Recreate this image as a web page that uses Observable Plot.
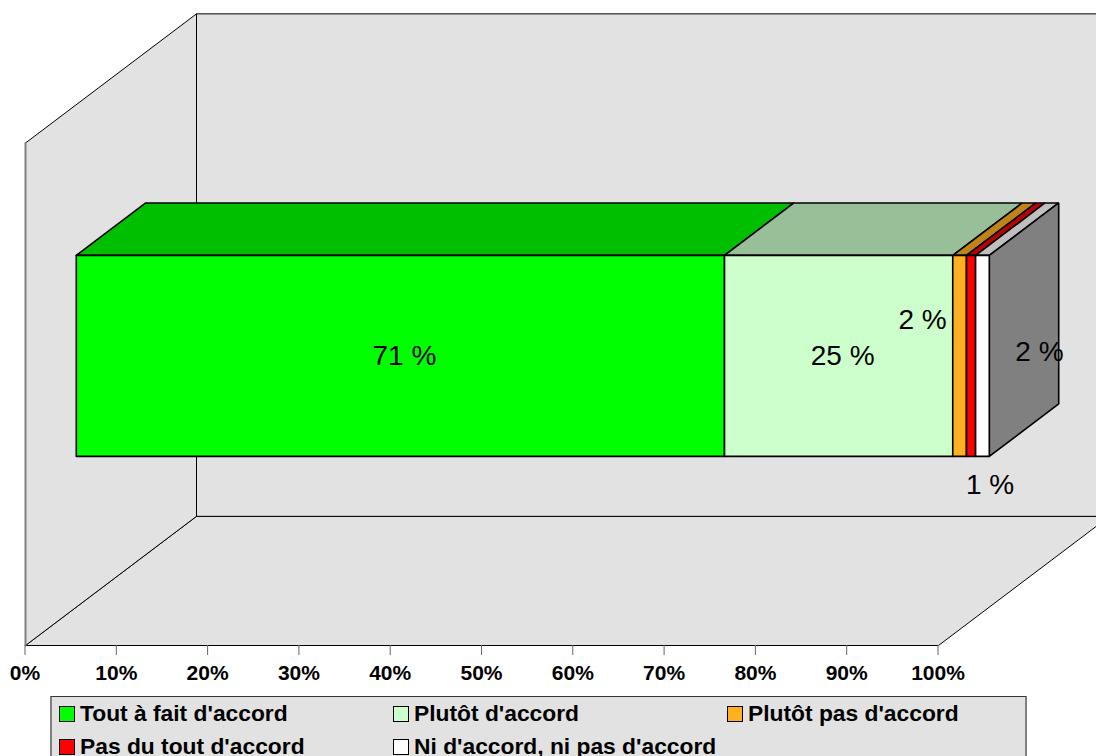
<!DOCTYPE html>
<html lang="fr">
<head>
<meta charset="utf-8">
<script src="https://cdn.jsdelivr.net/npm/d3@7"></script>
<script src="https://cdn.jsdelivr.net/npm/@observablehq/plot@0.6"></script>
<style>
  html, body { margin: 0; padding: 0; background: #fff; overflow: hidden; }
  body { font-family: "Liberation Sans", Arial, sans-serif; }
  #chart svg { display: block; }
  #legend {
    box-sizing: border-box; margin-left: 50px; width: 977px; height: 60px;
    background: #e2e2e2; border-top: 1px solid #333;
    border-left: 2px solid #808080; border-right: 2px solid #808080;
    display: grid; grid-template-columns: repeat(3, 334px); grid-auto-rows: 33px;
    padding: 0 0 0 7px;
    font-weight: bold; font-size: 22.8px; color: #000;
  }
  .item { display: flex; align-items: center; white-space: nowrap; }
  .swatch { box-sizing: border-box; width: 16px; height: 16px; border: 1.5px solid #000; margin-right: 5px; flex: none; }
  .name { display: block; line-height: 0.8; }
</style>
</head>
<body>
<div id="chart"></div>
<div id="legend"></div>
<script>
const categories = ["Tout à fait d'accord", "Plutôt d'accord", "Plutôt pas d'accord", "Pas du tout d'accord", "Ni d'accord, ni pas d'accord"];
const shares = [71, 25, 1.5, 1, 1.5];
const shownLabels = ["71 %", "25 %", "2 %", "1 %", "2 %"];
const frontColors = ["#00ff00", "#ccffcc", "#ffb020", "#ff0000", "#ffffff"];
const topColors = ["#00bf00", "#99bf99", "#bf8418", "#bf0000", "#bfbfbf"];
const sideColor = "#808080";
const wallColor = "#e2e2e2";
const axisTicks = [0, 10, 20, 30, 40, 50, 60, 70, 80, 90, 100];
const labelNudges = [[4, 0], [4, 0], [-37, -36], [19, 129], [57, -4]];

// Oblique projection of (share, level, depth) into the chart's x and y data units.
const depthX = 18.73, depthY = 25.7;
const project = ([s, l, d]) => ({x: s + d * depthX, y: l + d * depthY});
const poly = (pts) => pts.concat([pts[0]]).map(project);

const floor = 0, ceil = 100, barLow = 30, barHigh = 70, barFront = 0.297, barBack = 0.703;
const starts = shares.map((_, i) => d3.sum(shares.slice(0, i)));
const ends = shares.map((v, i) => starts[i] + v);

const face = (pts, fill, opts = {}) =>
  Plot.line(poly(pts), {x: "x", y: "y", fill, stroke: "#000", strokeWidth: 1, strokeLinejoin: "miter", ...opts});

const marks = [
  // walls and floor
  face([[0, floor, 0], [100, floor, 0], [100, floor, 1], [0, floor, 1]], wallColor),
  face([[0, floor, 0], [0, floor, 1], [0, ceil, 1], [0, ceil, 0]], wallColor),
  face([[0, floor, 1], [100, floor, 1], [100, ceil, 1], [0, ceil, 1]], wallColor),
  Plot.line([[0, floor, 0], [0, ceil, 0]].map(project), {x: "x", y: "y", stroke: "#808080", strokeWidth: 2}),
  // bar: top faces, right side, front faces
  ...shares.map((_, i) => face([[starts[i], barHigh, barFront], [ends[i], barHigh, barFront], [ends[i], barHigh, barBack], [starts[i], barHigh, barBack]], topColors[i], {strokeWidth: 1.6})),
  face([[100, barLow, barFront], [100, barLow, barBack], [100, barHigh, barBack], [100, barHigh, barFront]], sideColor, {strokeWidth: 1.6}),
  ...shares.map((_, i) => face([[starts[i], barLow, barFront], [ends[i], barLow, barFront], [ends[i], barHigh, barFront], [starts[i], barHigh, barFront]], frontColors[i], {strokeWidth: 1.6})),
  // value labels
  ...shares.map((_, i) => {
    const p = project([(starts[i] + ends[i]) / 2, (barLow + barHigh) / 2, barFront]);
    return Plot.text([p], {x: "x", y: "y", text: () => shownLabels[i], dx: labelNudges[i][0], dy: labelNudges[i][1], fontSize: 28, fill: "#000", lineAnchor: "middle"});
  }),
  // axis
  Plot.axisX({anchor: "bottom", ticks: axisTicks, tickFormat: (d) => d + "%", tickSize: 10, tickPadding: 10, stroke: "#666", fontSize: 21, fontWeight: "bold", fill: "#000", label: null, dx: -0.5})
];

const chart = Plot.plot({
  width: 1096, height: 696,
  marginLeft: 25, marginRight: 158, marginTop: 13, marginBottom: 51,
  style: {fontFamily: '"Liberation Sans", Arial, sans-serif', background: "#fff", color: "#000", overflow: "hidden"},
  x: {domain: [0, 100], range: [25, 938], axis: null},
  y: {domain: [0, 100], range: [645, 142.5], axis: null},
  marks
});
document.getElementById("chart").append(chart);

const legend = document.getElementById("legend");
categories.forEach((c, i) => {
  const it = document.createElement("div");
  it.className = "item";
  const sw = document.createElement("span");
  sw.className = "swatch";
  sw.style.background = frontColors[i];
  const t = document.createElement("span");
  t.className = "name";
  t.textContent = c;
  it.append(sw, t);
  legend.append(it);
});
</script>
</body>
</html>
